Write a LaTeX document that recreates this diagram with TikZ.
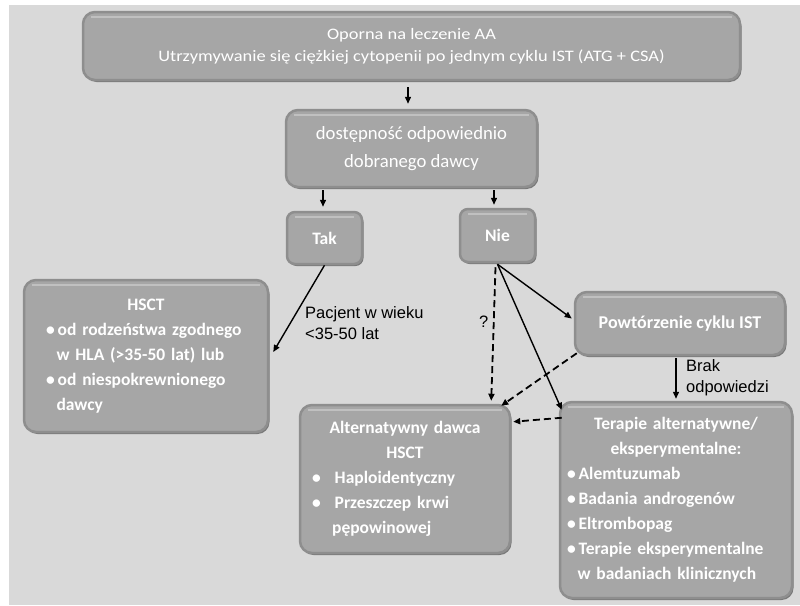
\documentclass[tikz,border=0pt]{standalone}
\usepackage{fontspec}
\setmainfont{Carlito}
\newfontfamily\wideFont[FakeStretch=1.15]{Carlito}
\newfontfamily\lblfont{Liberation Sans}
\usetikzlibrary{shadows,calc,arrows.meta}
\definecolor{bgcol}{HTML}{D9D9D9}
\definecolor{boxfill}{HTML}{A6A6A6}
\definecolor{boxedge}{HTML}{8E8E8E}
\definecolor{boxshadow}{HTML}{6E6E6E}
\begin{document}
\begin{tikzpicture}[x=1pt,y=-1pt,
  box/.style={draw=boxedge, line width=2.5pt, fill=boxfill, rounded corners=12pt,
    text=white, inner sep=4pt,
    drop shadow={shadow xshift=1.5pt, shadow yshift=-2pt, fill=boxshadow, opacity=0.9},
    path picture={\draw[white, opacity=0.3, line width=2pt]
      ([xshift=8pt,yshift=-4.5pt]path picture bounding box.north west) --
      ([xshift=-8pt,yshift=-4.5pt]path picture bounding box.north east);}},
  smallbox/.style={box, rounded corners=8pt},
  arr/.style={-{Triangle[length=7pt,width=6pt]}, line width=1.4pt, black},
  dasharr/.style={-{Triangle[length=7pt,width=6pt]}, line width=1.8pt, black,
    dash pattern=on 7pt off 4pt},
  lbl/.style={font=\lblfont\fontsize{16.5}{21}\selectfont, align=left, anchor=west, inner sep=0pt},
  boldtxt/.style={font=\fontsize{17.5}{25}\selectfont\bfseries}
]
\fill[white] (0,0) rectangle (800,605);
\fill[bgcol] (9,5) rectangle (800,605);
\useasboundingbox (0,0) rectangle (800,605);

% nodes
\node[box, minimum width=657pt, minimum height=68pt, align=center,
  font=\wideFont\fontsize{16}{22}\selectfont] (top) at (411.5,46)
  {Oporna na leczenie AA\\Utrzymywanie się ciężkiej cytopenii po jednym cyklu IST (ATG + CSA)};

\node[box, minimum width=251pt, minimum height=77pt, align=center,
  font=\fontsize{18.7}{28}\selectfont] (donor) at (411.5,148.5)
  {dostępność odpowiednio\\dobranego dawcy};

\node[smallbox, minimum width=75pt, minimum height=52pt, font=\fontsize{17.5}{22}\selectfont\bfseries] (tak) at (324.5,238) {Tak};
\node[smallbox, minimum width=75pt, minimum height=53pt, font=\fontsize{17.5}{22}\selectfont\bfseries] (nie) at (497.5,235.5) {Nie};

\node[box, minimum width=244pt, minimum height=152pt, text width=200pt, align=left, boldtxt] (hsct) at (146,356)
  {{\centering HSCT\par}\raggedright
   \mbox{\textbullet\,od rodzeństwa zgodnego}\\
   \mbox{\hspace*{0.6em}w HLA (>35-50 lat) lub}\\
   \mbox{\textbullet\,od niespokrewnionego}\\
   \mbox{\hspace*{0.6em}dawcy}};

\node[box, minimum width=210pt, minimum height=63pt, font=\fontsize{18}{22}\selectfont\bfseries] (powt) at (680,323.5)
  {Powtórzenie cyklu IST};

\node[box, minimum width=210pt, minimum height=148pt, text width=186pt, align=left, boldtxt] (alt) at (405,479)
  {{\centering \mbox{Alternatywny dawca}\\HSCT\par}\raggedright
   \mbox{\textbullet\hspace{0.8em}Haploidentyczny}\\
   \mbox{\textbullet\hspace{0.8em}Przeszczep krwi}\\
   \mbox{\hspace*{1.15em}pępowinowej}};

\node[box, minimum width=232pt, minimum height=196pt, text width=218pt, align=left, boldtxt] (ter) at (676,500)
  {{\centering \mbox{Terapie alternatywne/}\\eksperymentalne:\par}\raggedright
   \mbox{\textbullet\,Alemtuzumab}\\
   \mbox{\textbullet\,Badania androgenów}\\
   \mbox{\textbullet\,Eltrombopag}\\
   \mbox{\textbullet\,Terapie eksperymentalne}\\
   \mbox{\hspace*{0.6em}w badaniach klinicznych}};

% labels
\node[lbl] (lpac) at (305,323) {Pacjent w wieku\\<35-50 lat};
\node[lbl] (lbrak) at (686,378) {Brak\\odpowiedzi};
\node[lbl] (lq) at (479,322) {?};

% connectors
\draw[arr] ($(top.south)+(-3.5,6)$) -- ($(donor.north)+(-3.5,-5)$);
\draw[arr] ($(donor.south -| tak.north)+(-1.5,2)$) -- ($(tak.north)+(-1.5,-4)$);
\draw[arr] ($(donor.south -| nie.north)+(-3.5,2)$) -- ($(nie.north)+(-3.5,-3)$);
\draw[arr] (tak.south) -- ($(hsct.east)+(4,-4)$);
\draw[arr] ($(nie.south)+(0,1)$) -- ($(powt.west)+(-2,-5)$);
\draw[arr] ($(nie.south)+(0,1)$) -- ($(ter.north west)+(3,9)$);
\draw[dasharr] ($(nie.south)+(-2,4)$) -- ($(alt.north east)+(-20,-3)$);
\draw[dasharr] ($(powt.south west)+(3,-3)$) -- ($(alt.north east)+(-10,2)$);
\draw[dasharr] ($(ter.north west)+(3,17)$) -- ($(alt.north east)+(2,18)$);
\draw[arr] ($(ter.north |- powt.south)+(0,2)$) -- ($(ter.north)+(0,-2)$);
\end{tikzpicture}
\end{document}
